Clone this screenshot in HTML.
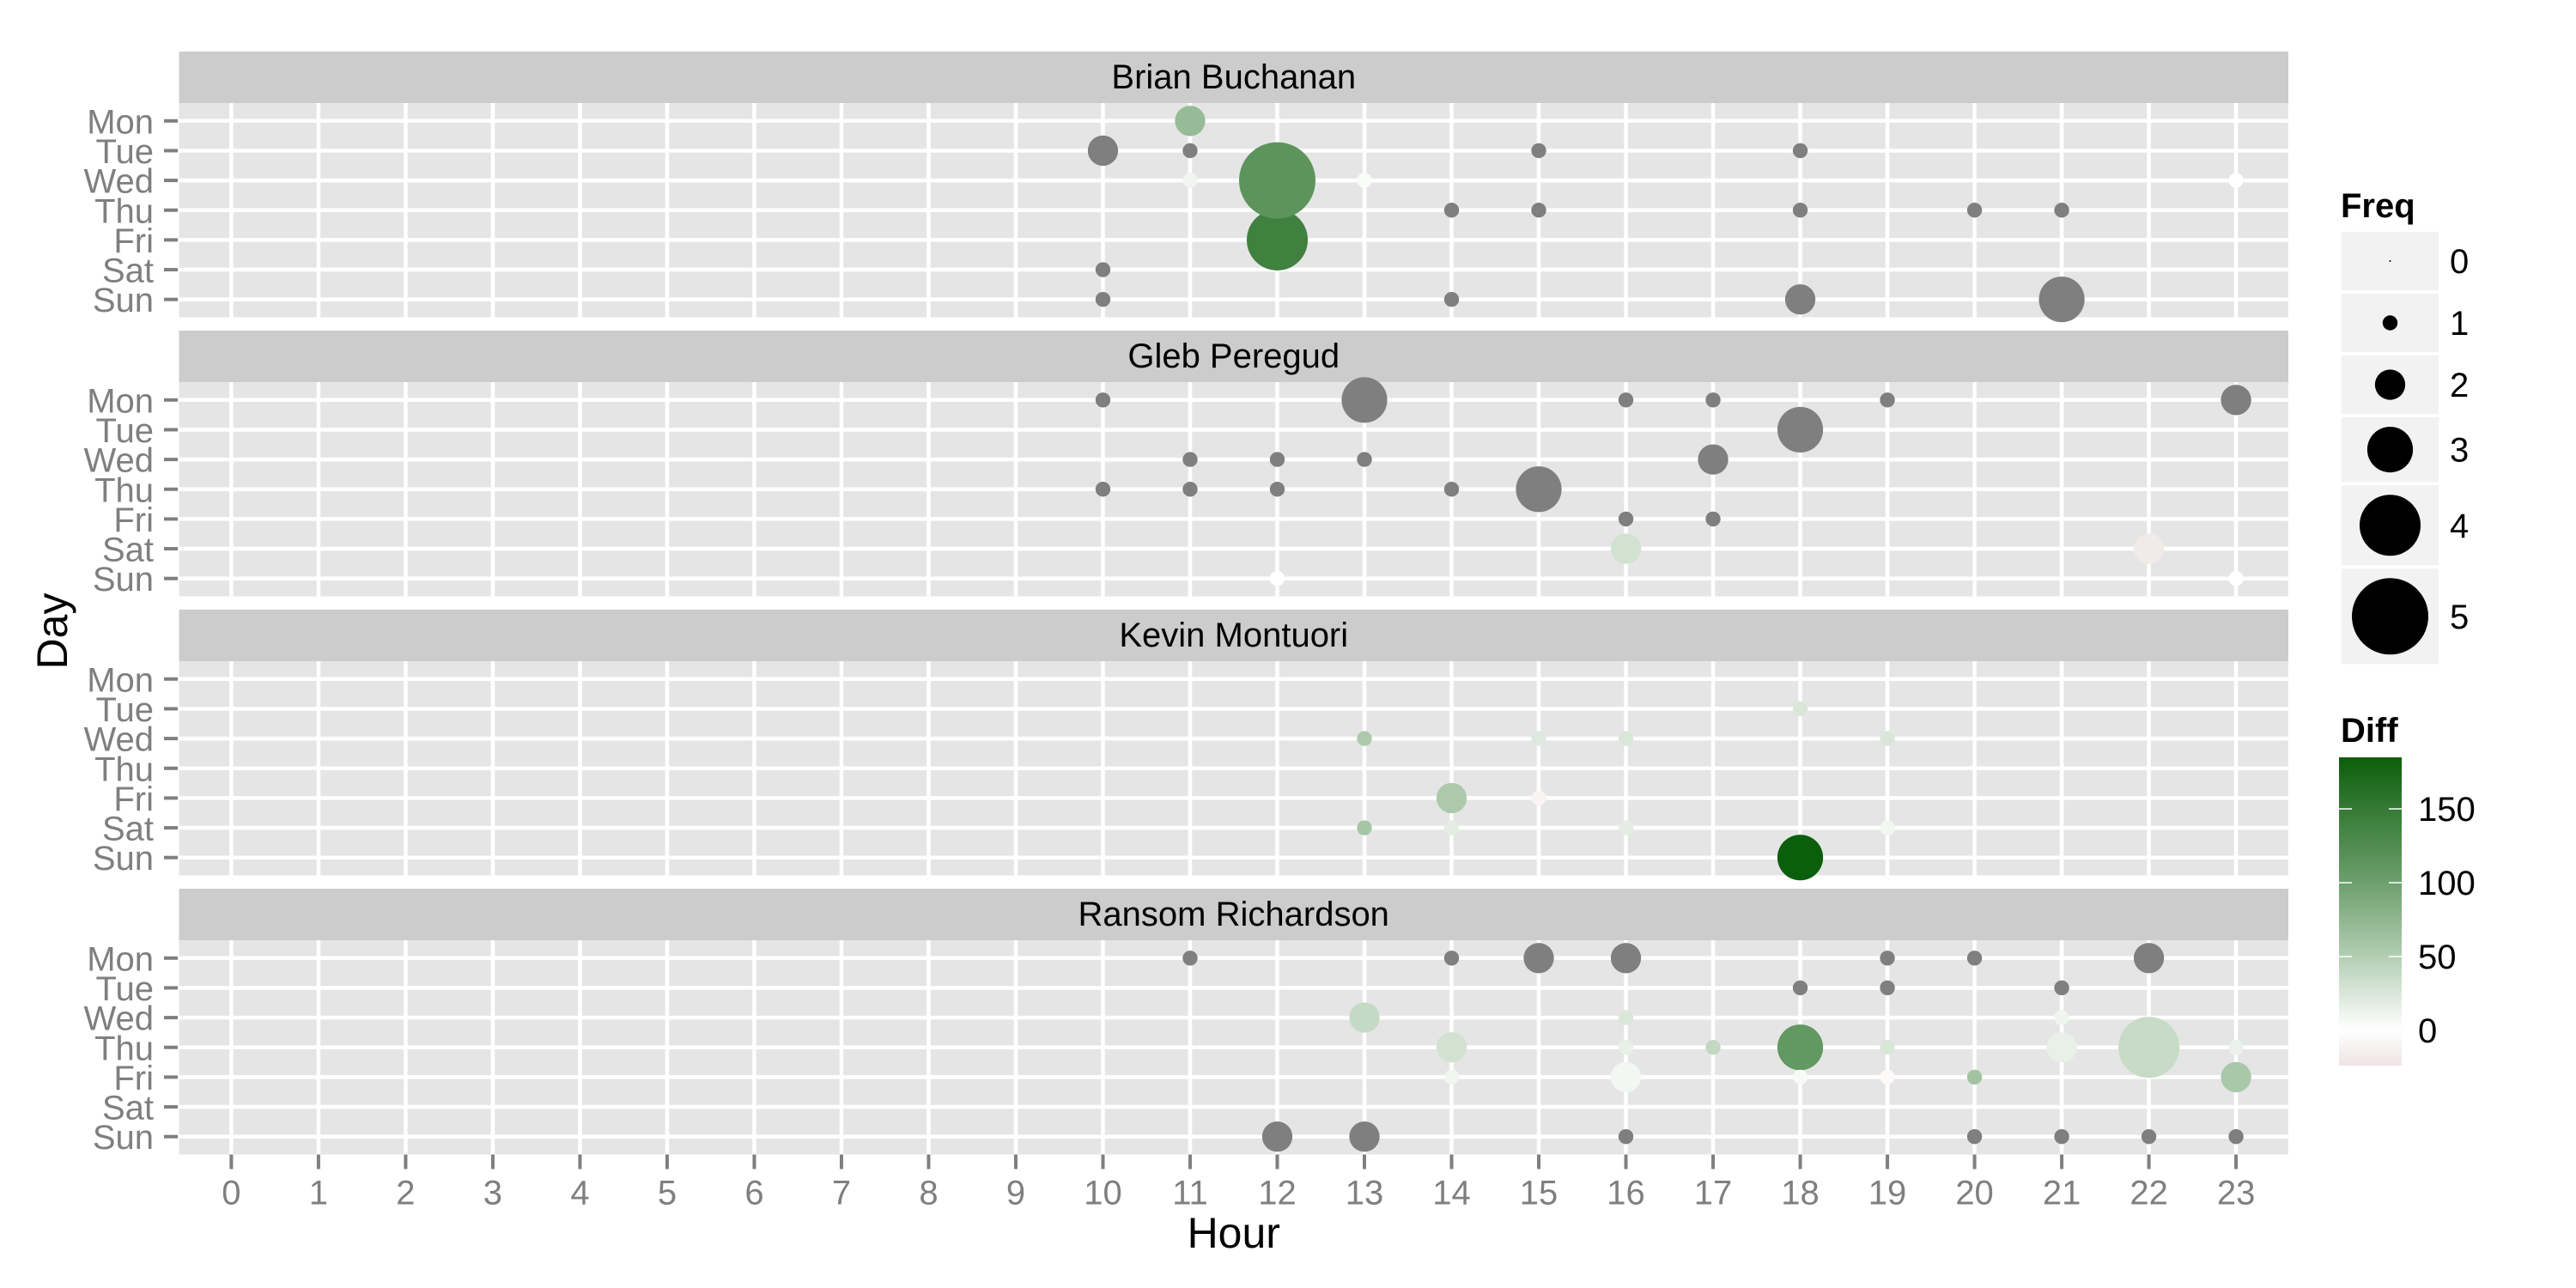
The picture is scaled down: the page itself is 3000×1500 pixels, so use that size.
<!DOCTYPE html>
<html><head><meta charset="utf-8"><style>
html,body{margin:0;padding:0;background:#fff;}
svg{display:block;font-family:"Liberation Sans",Arial,sans-serif;}
</style></head><body>
<svg id="chart" width="3000" height="1500" viewBox="0 0 3000 1500" xmlns="http://www.w3.org/2000/svg">
<rect x="0" y="0" width="3000" height="1500" fill="#fff"/>
<defs>
<linearGradient id="diffgrad" x1="0" y1="1" x2="0" y2="0">
<stop offset="0" stop-color="#efe4e4"/>
<stop offset="0.115" stop-color="#ffffff"/>
<stop offset="0.354" stop-color="#b3ceb3"/>
<stop offset="0.593" stop-color="#6d9f6d"/>
<stop offset="0.833" stop-color="#357a35"/>
<stop offset="1" stop-color="#0b5e0b"/>
</linearGradient>
</defs>
<g id="plot"></g>
</svg>
<script>
const days = ["Mon","Tue","Wed","Thu","Fri","Sat","Sun"];
const hourTicks = [0,1,2,3,4,5,6,7,8,9,10,11,12,13,14,15,16,17,18,19,20,21,22,23];
const people = ["Brian Buchanan","Gleb Peregud","Kevin Montuori","Ransom Richardson"];
const freqLegend = [0,1,2,3,4,5];
const diffTicks = [0,50,100,150];

// Brian Buchanan
const bbHour = [10,11,11,11,13,12,12,14,15,15,18,18,20,21,23,10,10,14,18,21];
const bbDay  = [1,0,1,2,2,4,2,3,1,3,1,3,3,3,2,5,6,6,6,6];
const bbFreq = [2,2,1,1,1,4,5,1,1,1,1,1,1,1,1,1,1,1,2,3];
const bbDiff = [null,70,null,10,3,140,115,null,null,null,null,null,null,null,0,null,null,null,null,null];
// Gleb Peregud
const gpHour = [10,13,16,17,19,23,18,11,12,13,17,10,11,12,14,15,16,17,16,22,12,23];
const gpDay  = [0,0,0,0,0,0,1,2,2,2,2,3,3,3,3,3,4,4,5,5,6,6];
const gpFreq = [1,3,1,1,1,2,3,1,1,1,2,1,1,1,1,3,1,1,2,2,1,1];
const gpDiff = [null,null,null,null,null,null,null,null,null,null,null,null,null,null,null,null,null,null,30,-20,0,0];
// Kevin Montuori
const kmHour = [18,13,15,16,19,14,15,13,14,16,19,18];
const kmDay  = [1,2,2,2,2,4,4,5,5,5,5,6];
const kmFreq = [1,1,1,1,1,2,1,1,1,1,1,3];
const kmDiff = [25,55,22,25,25,55,-10,60,18,18,8,185];
// Ransom Richardson
const rrHour = [11,14,15,16,19,20,22,18,19,21,13,16,21,14,16,17,18,19,21,22,23,14,16,18,19,20,23,12,13,16,20,21,22,23];
const rrDay  = [0,0,0,0,0,0,0,1,1,1,2,2,2,3,3,3,3,3,3,3,3,4,4,4,4,4,4,6,6,6,6,6,6,6];
const rrFreq = [1,1,2,2,1,1,2,1,1,1,2,1,1,2,1,1,3,1,2,4,1,1,2,1,1,1,2,2,2,1,1,1,1,1];
const rrDiff = [null,null,null,null,null,null,null,null,null,null,38,25,10,30,15,40,110,25,15,37,13,10,8,5,-5,62,57,null,null,null,null,null,null,null];

const panels = [
  {h:bbHour,d:bbDay,f:bbFreq,v:bbDiff},
  {h:gpHour,d:gpDay,f:gpFreq,v:gpDiff},
  {h:kmHour,d:kmDay,f:kmFreq,v:kmDiff},
  {h:rrHour,d:rrDay,f:rrFreq,v:rrDiff}
];

const NS="http://www.w3.org/2000/svg";
const root=document.getElementById('plot');
function mk(tag,attrs,parent){const e=document.createElementNS(NS,tag);for(const k in attrs)e.setAttribute(k,attrs[k]);(parent||root).appendChild(e);return e;}

const PX0=208.5, PX1=2665, STRIP_H=60, PANEL_H=249.5, PERIOD=325, TOP=60;
const HOUR_STEP=(PX1-PX0)/24.2;
function xScale(h){return PX0+(h+0.6)*HOUR_STEP;}
const DAY_STEP=PANEL_H/7.2;
function yScale(i,d){return TOP+i*PERIOD+STRIP_H+(d+0.6)*DAY_STEP;}
function sizeScale(f){return f<=0?1:(17.9*f-0.5)/2;}
function lerp(a,b,t){return Math.round(a+(b-a)*t);}
function mix(c1,c2,t){return `rgb(${lerp(c1[0],c2[0],t)},${lerp(c1[1],c2[1],t)},${lerp(c1[2],c2[2],t)})`;}
const colStops=[[0,[255,255,255]],[50,[179,206,179]],[100,[109,159,109]],[150,[53,122,53]],[185,[11,94,11]]];
function colorScale(v){
  if(v===null) return '#7f7f7f';
  if(v<0) return mix([255,255,255],[239,228,228],Math.min(1,-v/24));
  for(let k=1;k<colStops.length;k++){
    if(v<=colStops[k][0]){const a=colStops[k-1],b=colStops[k];return mix(a[1],b[1],(v-a[0])/(b[0]-a[0]));}
  }
  return 'rgb(11,94,11)';
}

panels.forEach((p,i)=>{
  const g=mk('g',{});
  
  
  const sy=TOP+i*PERIOD;
  const strip=mk('rect',{x:PX0,y:sy,width:PX1-PX0,height:STRIP_H,fill:'#cccccc'},g);
  
  
  const st=mk('text',{x:(PX0+PX1)/2,y:sy+43,'font-size':40,'text-anchor':'middle',fill:'#000'},g);
  st.textContent=people[i];
  
  
  const py=sy+STRIP_H;
  const bg=mk('rect',{x:PX0,y:py,width:PX1-PX0,height:PANEL_H,fill:'#e5e5e5'},g);
  
  
  hourTicks.forEach(h=>{
    const l=mk('line',{x1:xScale(h),x2:xScale(h),y1:py,y2:py+PANEL_H,stroke:'#fff','stroke-width':4.5},g);
    
    
  });
  days.forEach((d,di)=>{
    const y=yScale(i,di);
    const l=mk('line',{x1:PX0,x2:PX1,y1:y,y2:y,stroke:'#fff','stroke-width':4.5},g);
    
    
    const tk=mk('line',{x1:191,x2:207,y1:y,y2:y,stroke:'#7f7f7f','stroke-width':4},g);
    
    
    const t=mk('text',{x:179,y:y+14.5,'font-size':40,'text-anchor':'end',fill:'#7f7f7f'},g);
    t.textContent=d;
    
    
  });
  p.h.forEach((h,k)=>{
    const c=mk('circle',{cx:xScale(h),cy:yScale(i,p.d[k]),r:sizeScale(p.f[k]),fill:colorScale(p.v[k])},g);
    
    
  });
});

// x axis
const axisY=TOP+3*PERIOD+STRIP_H+PANEL_H;
hourTicks.forEach(h=>{
  const tk=mk('line',{x1:xScale(h),x2:xScale(h),y1:axisY,y2:axisY+17,stroke:'#7f7f7f','stroke-width':4});
  
  
  const t=mk('text',{x:xScale(h),y:axisY+58,'font-size':40,'text-anchor':'middle',fill:'#7f7f7f'});
  t.textContent=String(h);
  
  
});
const xt=mk('text',{x:(PX0+PX1)/2,y:1453,'font-size':50,'text-anchor':'middle',fill:'#000'});
xt.textContent='Hour';


const yt=mk('text',{x:0,y:0,'font-size':50,'text-anchor':'middle',fill:'#000',transform:'translate(78,735) rotate(-90)'});
yt.textContent='Day';



// Freq legend
const lg=mk('g',{});


const ft=mk('text',{x:2726,y:253,'font-size':40,'font-weight':'bold',fill:'#000'},lg);
ft.textContent='Freq';


let ky=270;
freqLegend.forEach(f=>{
  const hgt=Math.max(68,2*sizeScale(f)+22);
  const kb=mk('rect',{x:2727,y:ky,width:113,height:hgt,fill:'#f2f2f2'},lg);
  
  
  const c=mk('circle',{cx:2783.5,cy:ky+hgt/2,r:sizeScale(f),fill:'#000'},lg);
  
  
  const t=mk('text',{x:2853,y:ky+hgt/2+14,'font-size':40,fill:'#000'},lg);
  t.textContent=String(f);
  
  
  ky+=hgt+4;
});

// Diff colorbar
const dg=mk('g',{});


const dt=mk('text',{x:2726,y:864,'font-size':40,'font-weight':'bold',fill:'#000'},dg);
dt.textContent='Diff';


const cb=mk('rect',{x:2724,y:882,width:73,height:359,fill:'url(#diffgrad)'},dg);


function cbY(v){return 1200-v*86/50;}
diffTicks.forEach(v=>{
  const y=cbY(v);
  const a=mk('line',{x1:2724,x2:2739,y1:y,y2:y,stroke:'#fff','stroke-width':1.5},dg);
  
  
  const b=mk('line',{x1:2782,x2:2797,y1:y,y2:y,stroke:'#fff','stroke-width':1.5},dg);
  
  
  const t=mk('text',{x:2816,y:y+14,'font-size':40,fill:'#000'},dg);
  t.textContent=String(v);
  
  
});
</script>
</body></html>
